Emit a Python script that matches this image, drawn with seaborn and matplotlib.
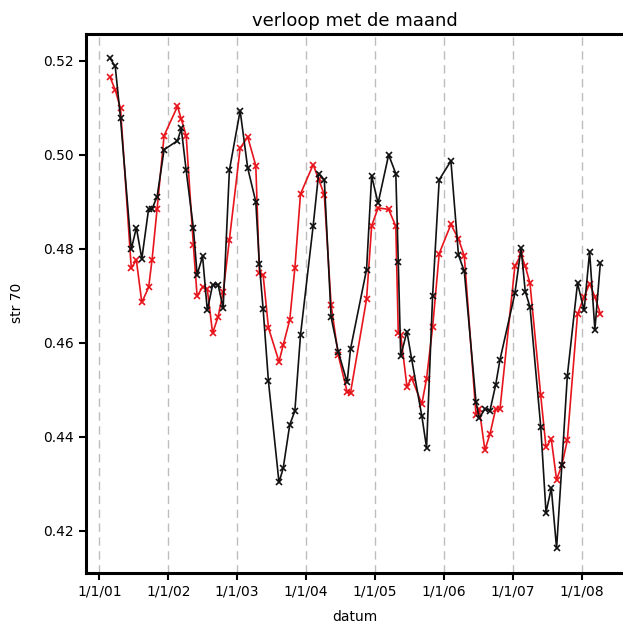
import matplotlib
matplotlib.use("Agg")
import matplotlib.pyplot as plt
import matplotlib.dates as mdates
from matplotlib.ticker import FuncFormatter
import seaborn as sns
import pandas as pd

dates = [
    "2001-02-26", "2001-03-26", "2001-04-23", "2001-06-19", "2001-07-16", "2001-08-14",
    "2001-09-19", "2001-10-07", "2001-11-03", "2001-12-10",
    "2002-02-19", "2002-03-11", "2002-04-06", "2002-05-14", "2002-06-03", "2002-07-02",
    "2002-07-27", "2002-08-24", "2002-09-22", "2002-10-19", "2002-11-21",
    "2003-01-17", "2003-02-26", "2003-04-10", "2003-04-29", "2003-05-19", "2003-06-16",
    "2003-08-11", "2003-09-02", "2003-10-07", "2003-11-03", "2003-12-03",
    "2004-02-08", "2004-03-08", "2004-04-07", "2004-05-13", "2004-06-20", "2004-08-06",
    "2004-08-24", "2004-11-17", "2004-12-14",
    "2005-01-17", "2005-03-14", "2005-04-21", "2005-05-04", "2005-05-17", "2005-06-19",
    "2005-07-14", "2005-09-06", "2005-10-01", "2005-11-02", "2005-12-07",
    "2006-02-07", "2006-03-19", "2006-04-19", "2006-06-20", "2006-07-07", "2006-08-06",
    "2006-09-02", "2006-10-02", "2006-10-25",
    "2007-01-12", "2007-02-14", "2007-03-08", "2007-04-02", "2007-05-29", "2007-06-26",
    "2007-07-24", "2007-08-21", "2007-09-18", "2007-10-17", "2007-12-10",
    "2008-01-14", "2008-02-12", "2008-03-11", "2008-04-09",
]

black_values = [
    0.5206, 0.5188, 0.5078, 0.4799, 0.4845, 0.4779, 0.4885, 0.4885, 0.4911, 0.5011,
    0.5030, 0.5056, 0.4967, 0.4845, 0.4745, 0.4784, 0.4669, 0.4723, 0.4724, 0.4674, 0.4967,
    0.5094, 0.4972, 0.4900, 0.4767, 0.4671, 0.4518, 0.4303, 0.4333, 0.4426, 0.4455, 0.4617,
    0.4849, 0.4960, 0.4947, 0.4655, 0.4581, 0.4516, 0.4587, 0.4756, 0.4955,
    0.4897, 0.5000, 0.4960, 0.4773, 0.4572, 0.4624, 0.4565, 0.4444, 0.4377, 0.4700, 0.4947,
    0.4987, 0.4787, 0.4752, 0.4474, 0.4440, 0.4459, 0.4456, 0.4510, 0.4564,
    0.4705, 0.4802, 0.4709, 0.4677, 0.4422, 0.4239, 0.4291, 0.4163, 0.4340, 0.4530, 0.4727,
    0.4669, 0.4794, 0.4628, 0.4770,
]

red_values = [
    0.5166, 0.5138, 0.5099, 0.4759, 0.4776, 0.4686, 0.4718, 0.4776, 0.4885, 0.5041,
    0.5103, 0.5076, 0.5041, 0.4809, 0.4699, 0.4719, 0.4714, 0.4621, 0.4655, 0.4708, 0.4819,
    0.5014, 0.5038, 0.4977, 0.4749, 0.4744, 0.4632, 0.4560, 0.4595, 0.4649, 0.4759, 0.4917,
    0.4979, 0.4948, 0.4915, 0.4681, 0.4574, 0.4496, 0.4494, 0.4693, 0.4849,
    0.4887, 0.4884, 0.4848, 0.4621, 0.4617, 0.4507, 0.4525, 0.4470, 0.4524, 0.4633, 0.4790,
    0.4852, 0.4821, 0.4785, 0.4446, 0.4460, 0.4372, 0.4406, 0.4459, 0.4459,
    0.4763, 0.4788, 0.4763, 0.4727, 0.4488, 0.4378, 0.4395, 0.4309, 0.4340, 0.4393, 0.4661,
    0.4698, 0.4726, 0.4698, 0.4662,
]

year_ticks = ["2001-01-01", "2002-01-01", "2003-01-01", "2004-01-01",
              "2005-01-01", "2006-01-01", "2007-01-01", "2008-01-01"]
y_ticks = [0.42, 0.44, 0.46, 0.48, 0.50, 0.52]

title = "verloop met de maand"
xlabel = "datum"
ylabel = "str 70"

sns.set_theme(style="white")
plt.rcParams["font.family"] = ["Liberation Sans Narrow", "DejaVu Sans"]

df = pd.DataFrame({"datum": pd.to_datetime(dates), "black": black_values, "red": red_values})

fig = plt.figure(figsize=(6.23, 6.24), dpi=100)
ax = fig.add_axes([0.138, 0.0822, 0.862, 0.8633])

tick_dates = pd.to_datetime(year_ticks)
for d in tick_dates:
    ax.axvline(d, color="#bdbdbd", linestyle=(0, (6, 4)), linewidth=1.0, zorder=0)

sns.lineplot(data=df, x="datum", y="red", ax=ax, color="#e8141c", linewidth=1.2,
             marker="x", markersize=5, markeredgewidth=1.2, markeredgecolor="#e8141c", zorder=2)
sns.lineplot(data=df, x="datum", y="black", ax=ax, color="#111111", linewidth=1.2,
             marker="x", markersize=5, markeredgewidth=1.2, markeredgecolor="#111111", zorder=3)

ax.set_xlim(pd.Timestamp("2000-10-22"), pd.Timestamp("2008-08-07"))
ax.set_ylim(0.4111, 0.5257)
ax.set_xticks(tick_dates)
ax.xaxis.set_major_formatter(FuncFormatter(
    lambda v, p: (lambda d: f"{d.month}/{d.day}/{d:%y}")(mdates.num2date(v))))
ax.set_yticks(y_ticks)
ax.set_yticklabels([f"{v:.2f}" for v in y_ticks])

for side in ["left", "top", "bottom"]:
    ax.spines[side].set_visible(True)
    ax.spines[side].set_color("black")
    ax.spines[side].set_linewidth(2.2)
ax.spines["right"].set_visible(False)

ax.tick_params(axis="both", which="major", direction="out", length=5, width=1.5,
               color="black", labelsize=10, labelcolor="black", bottom=True, left=True)
ax.set_title(title, fontsize=13, pad=6, color="black")
ax.set_xlabel(xlabel, fontsize=10, labelpad=8, color="black")
ax.set_ylabel(ylabel, fontsize=10, labelpad=14, color="black")
ax.grid(False)

fig.savefig("out.png", dpi=100)
